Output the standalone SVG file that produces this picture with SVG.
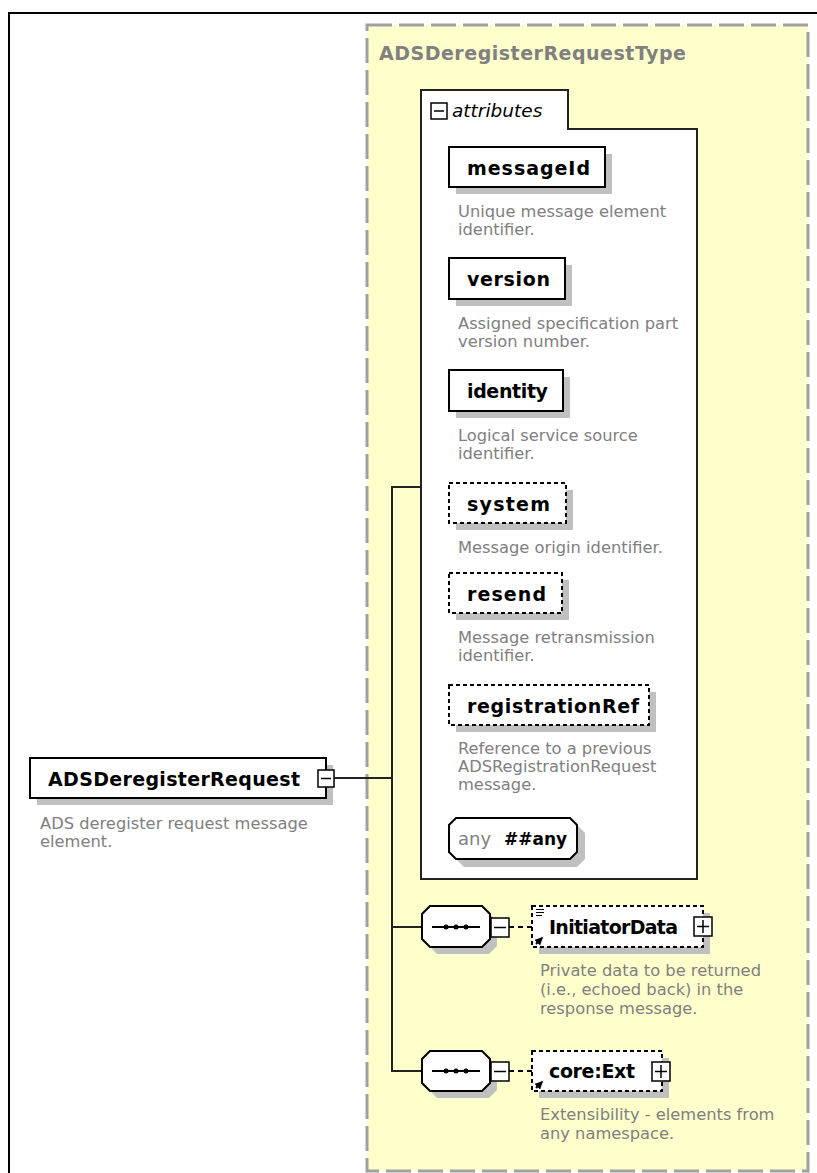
<svg xmlns="http://www.w3.org/2000/svg" width="817" height="1173" viewBox="0 0 817 1173">
<defs>
<style>
.bold{font-family:"DejaVu Sans",Verdana,sans-serif;font-weight:bold;font-size:19px;fill:#000}
.title{font-family:"DejaVu Sans",Verdana,sans-serif;font-weight:bold;font-size:19px;fill:#808080}
.desc{font-family:"DejaVu Sans",Verdana,sans-serif;font-size:16.3px;fill:#808080}
.box{fill:#fff;stroke:#000;stroke-width:2}
.dbox{fill:#fff;stroke:#000;stroke-width:2;stroke-dasharray:4 3}
.shadow{fill:#c0c0c0}
.conn{stroke:#222;stroke-width:2;fill:none}
.small{fill:#fff;stroke:#000;stroke-width:1.5}
</style>
<marker id="ah" viewBox="0 0 6 6" refX="5" refY="3" markerWidth="4" markerHeight="4" orient="auto"><path d="M0,0 L6,3 L0,6 Z" fill="#000"/></marker>
</defs>
<rect x="9" y="13" width="900" height="1200" fill="#fff" stroke="#000" stroke-width="2"/>
<g id="type-box">
<rect x="367" y="25" width="441" height="1146" fill="#ffffcc" stroke="#a0a0a0" stroke-width="3" stroke-dasharray="25 7"/>
<text class="title" x="379" y="60" textLength="307">ADSDeregisterRequestType</text>
</g>
<g id="attributes">
<path d="M421,90 H568 V129 H697 V879 H421 Z" fill="#fff" stroke="#222" stroke-width="2"/>
<rect class="small" x="431" y="103" width="16" height="16"/>
<line x1="434" y1="111" x2="444" y2="111" stroke="#000" stroke-width="1.5"/>
<text x="452" y="117" font-family="DejaVu Sans,Verdana,sans-serif" font-style="italic" font-size="18.5" fill="#000">attributes</text>
</g>
<g id="messageId">
<rect class="shadow" x="456" y="154" width="156" height="40"/>
<rect class="box" x="449" y="147" width="156" height="40"/>
<text class="bold" x="467" y="175" textLength="123">messageId</text>
<text class="desc" x="458" y="217">Unique message element</text>
<text class="desc" x="458" y="235">identifier.</text>
</g>
<g id="version">
<rect class="shadow" x="456" y="265" width="116" height="41"/>
<rect class="box" x="449" y="258" width="116" height="41"/>
<text class="bold" x="467" y="286" textLength="83">version</text>
<text class="desc" x="458" y="329">Assigned specification part</text>
<text class="desc" x="458" y="347">version number.</text>
</g>
<g id="identity">
<rect class="shadow" x="456" y="377" width="114" height="41"/>
<rect class="box" x="449" y="370" width="114" height="41"/>
<text class="bold" x="467" y="398" textLength="81">identity</text>
<text class="desc" x="458" y="441">Logical service source</text>
<text class="desc" x="458" y="459">identifier.</text>
</g>
<g id="system">
<rect class="shadow" x="456" y="490" width="117" height="40"/>
<rect class="dbox" x="449" y="483" width="117" height="40"/>
<text class="bold" x="467" y="511" textLength="83">system</text>
<text class="desc" x="458" y="553">Message origin identifier.</text>
</g>
<g id="resend">
<rect class="shadow" x="456" y="580" width="113" height="40"/>
<rect class="dbox" x="449" y="573" width="113" height="40"/>
<text class="bold" x="467" y="601" textLength="79">resend</text>
<text class="desc" x="458" y="643">Message retransmission</text>
<text class="desc" x="458" y="661">identifier.</text>
</g>
<g id="registrationRef">
<rect class="shadow" x="456" y="692" width="200" height="40"/>
<rect class="dbox" x="449" y="685" width="200" height="40"/>
<text class="bold" x="467" y="713" textLength="172">registrationRef</text>
<text class="desc" x="458" y="754">Reference to a previous</text>
<text class="desc" x="458" y="772">ADSRegistrationRequest</text>
<text class="desc" x="458" y="790">message.</text>
</g>
<g id="any">
<polygon class="shadow" points="464,825 577,825 585,833 585,859 577,867 464,867 456,859 456,833"/>
<polygon class="box" points="456,818 570,818 577,825 577,852 570,859 456,859 449,852 449,825"/>
<text class="desc" x="458" y="845" style="font-size:18px">any</text>
<text class="bold" x="504" y="845" style="font-size:17px">##any</text>
</g>
<g id="ADSDeregisterRequest">
<rect class="shadow" x="37" y="765" width="296" height="40"/>
<rect class="box" x="30" y="758" width="296" height="40"/>
<rect class="small" x="318" y="770" width="16" height="17"/>
<line x1="321" y1="778.5" x2="331" y2="778.5" stroke="#000" stroke-width="1.5"/>
<text class="bold" x="48" y="786" textLength="252">ADSDeregisterRequest</text>
<text class="desc" x="40" y="829">ADS deregister request message</text>
<text class="desc" x="40" y="847">element.</text>
</g>
<g id="connectors">
<line class="conn" x1="334" y1="778" x2="392" y2="778"/>
<line class="conn" x1="392" y1="486" x2="392" y2="1072"/>
<line class="conn" x1="391" y1="487" x2="421" y2="487"/>
<line class="conn" x1="391" y1="927" x2="422" y2="927"/>
<line class="conn" x1="391" y1="1071" x2="422" y2="1071"/>
<line x1="509" y1="927" x2="532" y2="927" stroke="#000" stroke-width="2" stroke-dasharray="5 4"/>
<line x1="509" y1="1071" x2="532" y2="1071" stroke="#000" stroke-width="2" stroke-dasharray="5 4"/>
</g>
<g id="sequence1">
<polygon class="shadow" points="437,913 489,913 497,921 497,946 489,954 437,954 429,946 429,921"/>
<polygon class="box" points="430,906 482,906 490,914 490,939 482,947 430,947 422,939 422,914"/>
<line x1="432" y1="927" x2="480" y2="927" stroke="#000" stroke-width="2"/>
<circle cx="446" cy="927" r="2.5"/><circle cx="456" cy="927" r="2.5"/><circle cx="466" cy="927" r="2.5"/>
<rect class="small" x="491" y="918" width="18" height="19"/>
<line x1="494" y1="927.5" x2="506" y2="927.5" stroke="#000" stroke-width="1.5"/>
</g>
<g id="InitiatorData">
<rect class="shadow" x="539" y="913" width="171" height="41"/>
<rect class="dbox" x="532" y="906" width="171" height="41"/>
<path d="M536,909.5 H544 M536,912.5 H544 M536,915.5 H542" stroke="#000" stroke-width="1"/>
<line x1="536" y1="944" x2="542" y2="938" stroke="#000" stroke-width="2" marker-end="url(#ah)"/>
<text class="bold" x="549" y="934" textLength="129">InitiatorData</text>
<rect class="small" x="694" y="917" width="18" height="19"/>
<path d="M697,926.5 H709 M703,920 V933" stroke="#000" stroke-width="1.5"/>
<text class="desc" x="540" y="976">Private data to be returned</text>
<text class="desc" x="540" y="995">(i.e., echoed back) in the</text>
<text class="desc" x="540" y="1014">response message.</text>
</g>
<g id="sequence2">
<polygon class="shadow" points="437,1058 489,1058 497,1066 497,1090 489,1098 437,1098 429,1090 429,1066"/>
<polygon class="box" points="430,1051 482,1051 490,1059 490,1083 482,1091 430,1091 422,1083 422,1059"/>
<line x1="432" y1="1071" x2="480" y2="1071" stroke="#000" stroke-width="2"/>
<circle cx="446" cy="1071" r="2.5"/><circle cx="456" cy="1071" r="2.5"/><circle cx="466" cy="1071" r="2.5"/>
<rect class="small" x="491" y="1062" width="18" height="19"/>
<line x1="494" y1="1071.5" x2="506" y2="1071.5" stroke="#000" stroke-width="1.5"/>
</g>
<g id="coreExt">
<rect class="shadow" x="539" y="1058" width="130" height="40"/>
<rect class="dbox" x="532" y="1051" width="130" height="40"/>
<line x1="536" y1="1088" x2="542" y2="1082" stroke="#000" stroke-width="2" marker-end="url(#ah)"/>
<text class="bold" x="549" y="1078" textLength="86">core:Ext</text>
<rect class="small" x="652" y="1062" width="18" height="19"/>
<path d="M655,1071.5 H667 M661,1065 V1078" stroke="#000" stroke-width="1.5"/>
<text class="desc" x="540" y="1120">Extensibility - elements from</text>
<text class="desc" x="540" y="1139">any namespace.</text>
</g>
</svg>
